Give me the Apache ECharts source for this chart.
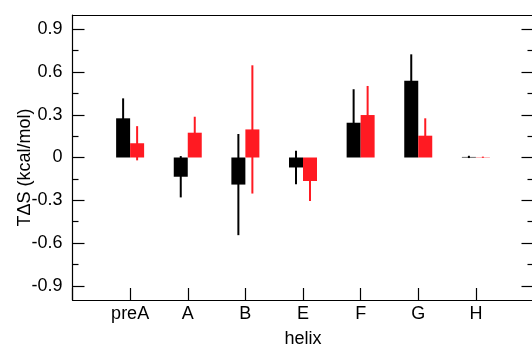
<!DOCTYPE html>
<html><head><meta charset="utf-8">
<script src="https://cdn.jsdelivr.net/npm/echarts@6/dist/echarts.min.js"></script>
<style>html,body{margin:0;padding:0;background:#fff}#c{width:532px;height:346px}</style>
</head><body><div id="c"></div>
<script>
const categories = ['preA','A','B','E','F','G','H'];
const blackValues = [0.275, -0.135, -0.19, -0.07, 0.244, 0.539, 0.004];
const blackErrors = [0.14, 0.145, 0.355, 0.118, 0.235, 0.185, 0.008];
const redValues = [0.10, 0.174, 0.197, -0.165, 0.298, 0.153, 0.002];
const redErrors = [0.12, 0.112, 0.45, 0.14, 0.204, 0.122, 0.004];
const majorTicks = [-0.9, -0.6, -0.3, 0, 0.3, 0.6, 0.9];
const minorTicks = [-0.75, -0.45, -0.15, 0.15, 0.45, 0.75];

const BLACK = '#000000', RED = '#ff1a22';
const FONT = 'Liberation Sans';
const pos = categories.map((c, i) => i + 1);

function errSeries(vals, errs, color, off) {
  return {
    type: 'custom', z: 3,
    data: vals.map((v, i) => [pos[i], v, errs[i]]),
    renderItem: (params, api) => {
      const x = api.value(0), v = api.value(1), e = api.value(2);
      const t = api.coord([x, v + e]);
      const b = api.coord([x, v - e]);
      return { type: 'line', shape: { x1: t[0] + off, y1: t[1], x2: b[0] + off, y2: b[1] },
        style: { stroke: color, lineWidth: 2 } };
    }
  };
}

const lineStyle = { color: '#000', width: 1.2 };
const axisLine = { show: true, onZero: false, lineStyle: lineStyle };
const noLine = { show: false, onZero: false };
const chart = echarts.init(document.getElementById('c'));
chart.setOption({
  animation: false,
  grid: { left: 72.5, top: 15, width: 461, height: 285, outerBoundsMode: 'none', containLabel: false },
  xAxis: [{
    type: 'value', min: 0, max: 8, interval: 1, position: 'bottom',
    axisLine: axisLine,
    axisTick: { show: true, inside: true, length: 12, lineStyle: lineStyle },
    axisLabel: { color: '#000', fontFamily: FONT, fontSize: 18, margin: 5,
      formatter: v => (v >= 1 && v <= 7) ? categories[v - 1] : '' },
    splitLine: { show: false },
    name: 'helix', nameLocation: 'middle', nameGap: 30, nameMoveOverlap: false,
    nameTextStyle: { color: '#000', fontFamily: FONT, fontSize: 18 }
  }, {
    type: 'value', min: 0, max: 8, position: 'top',
    axisLine: axisLine, axisTick: { show: false }, axisLabel: { show: false }, splitLine: { show: false }
  }],
  yAxis: [{
    type: 'value', min: -1, max: 1, position: 'left',
    axisLine: axisLine,
    axisTick: { show: true, inside: true, length: 12, customValues: majorTicks, lineStyle: lineStyle },
    axisLabel: { color: '#000', fontFamily: FONT, fontSize: 18, margin: 10, customValues: majorTicks,
      formatter: v => Math.abs(v) < 1e-9 ? '0' : v.toFixed(1) },
    splitLine: { show: false },
    name: 'TΔS (kcal/mol)', nameLocation: 'middle', nameGap: 38, nameRotate: 90, nameMoveOverlap: false,
    nameTextStyle: { color: '#000', fontFamily: FONT, fontSize: 18, padding: [0, 0, 0, -20] }
  }, {
    type: 'value', min: -1, max: 1, position: 'left',
    axisLine: noLine,
    axisTick: { show: true, inside: true, length: 6, customValues: minorTicks, lineStyle: lineStyle },
    axisLabel: { show: false }, splitLine: { show: false }
  }, {
    type: 'value', min: -1, max: 1, position: 'right',
    axisLine: axisLine,
    axisTick: { show: true, inside: true, length: 12, customValues: majorTicks, lineStyle: lineStyle },
    axisLabel: { show: false }, splitLine: { show: false }
  }, {
    type: 'value', min: -1, max: 1, position: 'right',
    axisLine: noLine,
    axisTick: { show: true, inside: true, length: 6, customValues: minorTicks, lineStyle: lineStyle },
    axisLabel: { show: false }, splitLine: { show: false }
  }],
  series: [
    errSeries(blackValues, blackErrors, BLACK, -7),
    errSeries(redValues, redErrors, RED, 7),
    { type: 'bar', z: 4, barWidth: 14, barGap: '0%', itemStyle: { color: BLACK },
      data: blackValues.map((v, i) => [pos[i], v]) },
    { type: 'bar', z: 4, barWidth: 14, barGap: '0%', itemStyle: { color: RED },
      data: redValues.map((v, i) => [pos[i], v]) }
  ]
});
</script>
</body></html>
